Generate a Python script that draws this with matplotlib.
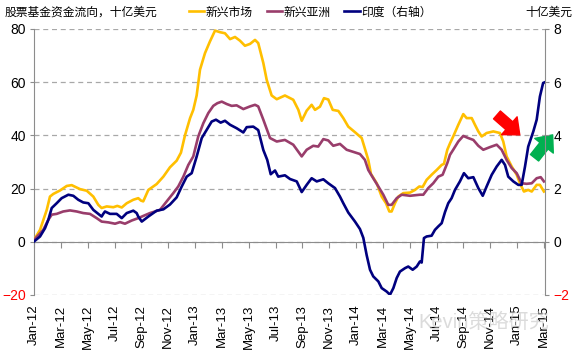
import matplotlib
matplotlib.use('Agg')
import matplotlib.pyplot as plt

plt.rcParams['font.family'] = ['Liberation Sans', 'Noto Sans CJK SC', 'DejaVu Sans']

# months since Jan-2012
em_t = [0, 0.45, 0.95, 1.19, 1.44, 1.94, 2.44, 2.81, 3.43, 3.93, 4.42, 4.79, 5.04, 5.42, 5.91,
        6.21, 6.54, 6.91, 7.40, 7.77, 7.97, 8.14, 8.52, 9.14, 9.64, 10.13, 10.63, 10.95, 11.25,
        11.63, 11.87, 12.12, 12.37, 12.74, 13.11, 13.49, 13.86, 14.23, 14.61, 14.98, 15.35, 15.72,
        16.10, 16.47, 16.71, 17.09, 17.34, 17.71, 18.09, 18.70, 19.32, 19.70, 19.95, 20.32, 20.69,
        20.94, 21.31, 21.61, 21.93, 22.26, 22.68, 23.05, 23.42, 23.92, 24.42, 24.66, 24.91, 25.11,
        25.54, 25.91, 26.23, 26.48, 26.65, 26.90, 27.15, 27.52, 28.02, 28.39, 28.71, 28.96, 29.26,
        29.63, 30.01, 30.38, 30.55, 30.80, 31.00, 31.24, 31.62, 31.99, 32.24, 32.62, 32.86, 33.11,
        33.36, 33.73, 34.23, 34.72, 34.97, 35.22, 35.60, 35.97, 36.21, 36.51, 36.83, 37.09, 37.46,
        37.70, 38.00]
em_v = [0.7, 4.5, 12, 17, 18, 19.3, 21, 21.3, 19.8, 19.2, 17, 13.9, 12.7, 13.3, 13,
        13.5, 12.9, 14.5, 15.8, 16.4, 15.5, 15.2, 19.5, 21.7, 24.5, 28, 30.5, 33.5, 40,
        46.5, 49.6, 55, 64.7, 70.9, 75.3, 79.4, 78.8, 78.4, 76.2, 77, 75.6, 73.7,
        74.4, 75.9, 74.7, 67.2, 60.9, 55, 53.6, 55, 53.4, 49.6, 45.5, 49.3, 51.5,
        49.6, 50.8, 54, 53.5, 49.6, 49.2, 46.5, 43.3, 41.2, 39, 35, 30.8, 25.5,
        22, 17, 14.5, 11.4, 11.4, 14.5, 17, 18.3, 18.5, 19.5, 20.8, 20.6, 23.3,
        25.2, 27, 28.9, 29.3, 34.6, 37, 39.6, 44, 48, 46.5, 46.5, 44, 41.5,
        39.6, 40.9, 41.5, 40.9, 37.7, 32.1, 28.3, 25.2, 22, 18.9, 19.5, 18.9, 21.4,
        21.4, 18.9]

asia_t = [0, 0.69, 1.07, 1.32, 1.69, 2.18, 2.68, 3.18, 3.67, 4.17, 4.67, 5.04, 5.54, 6.04, 6.41,
          6.78, 7.28, 7.77, 8.27, 8.64, 9.39, 9.89, 10.38, 10.75, 11.13, 11.50, 11.87, 12.24, 12.62,
          12.99, 13.36, 13.66, 13.99, 14.36, 14.73, 15.10, 15.60, 16.10, 16.47, 16.71, 17.09, 17.59,
          18.09, 18.70, 19.32, 19.95, 20.32, 20.81, 21.18, 21.56, 21.93, 22.30, 22.80, 23.30, 23.92,
          24.29, 24.66, 24.91, 25.28, 25.66, 26.03, 26.40, 26.65, 27.03, 27.40, 28.02, 28.76, 29.01,
          29.38, 29.75, 30.13, 30.45, 30.80, 31.00, 31.24, 31.62, 31.99, 32.36, 32.74, 33.11, 33.48,
          33.98, 34.48, 34.85, 35.22, 35.60, 35.97, 36.34, 36.71, 37.09, 37.46, 37.76, 38.00]
asia_v = [0.7, 4.5, 8.3, 10.2, 10.5, 11.4, 11.8, 11.4, 10.8, 10.5, 8.9, 7.6, 7.3, 6.8, 7.4,
          6.8, 8, 8.9, 10, 10.8, 12, 15.2, 18.3, 20.8, 24.5, 28.9, 32.1, 39.6, 44.6,
          48.4, 51.1, 52.1, 52.7, 51.8, 51.1, 51.3, 49.9, 50.9, 51.5, 50.9, 45.9, 39,
          37.7, 38.3, 36.5, 32.1, 34.6, 36.1, 35.8, 38.6, 38.1, 36.1, 36.8, 34.6, 33.6,
          33, 30.8, 27, 23.9, 20.8, 17.7, 13.9, 13.9, 16.4, 17.7, 17.3, 17.7, 17.7,
          20.2, 22, 24.5, 25.2, 29.6, 32.7, 34.6, 37.7, 39.8, 39, 38.3, 36.1, 34.6,
          35.6, 36.5, 34.6, 30.8, 27.7, 25.8, 22, 21.8, 22, 23.9, 24.3, 22.7]

india_t = [0, 0.45, 0.82, 1.07, 1.32, 1.69, 2.06, 2.56, 2.93, 3.30, 3.67, 4.05, 4.42, 4.79, 5.04,
           5.16, 5.29, 5.66, 6.16, 6.54, 6.91, 7.40, 7.65, 7.77, 8.03, 8.52, 9.14, 9.64, 10.13,
           10.63, 11.01, 11.38, 11.75, 12.12, 12.50, 12.87, 13.24, 13.56, 13.91, 14.23, 14.61, 15.10,
           15.60, 15.85, 16.34, 16.71, 17.09, 17.38, 17.64, 17.96, 18.20, 18.70, 19.08, 19.58, 19.95,
           20.32, 20.69, 21.07, 21.56, 21.93, 22.43, 22.80, 23.05, 23.42, 23.92, 24.29, 24.54, 24.79,
           25.04, 25.28, 25.66, 25.91, 26.28, 26.53, 26.78, 27.03, 27.27, 27.65, 27.89, 28.22, 28.52,
           28.76, 28.89, 29.06, 29.26, 29.63, 29.88, 30.13, 30.38, 30.63, 30.87, 31.12, 31.37, 31.74,
           32.04, 32.36, 32.74, 33.11, 33.44, 33.73, 34.11, 34.48, 34.85, 35.10, 35.34, 35.72, 36.09,
           36.34, 36.59, 36.83, 37.21, 37.46, 37.70, 37.94, 38.08]
india_v = [0.01, 0.2, 0.51, 0.83, 1.27, 1.45, 1.64, 1.77, 1.73, 1.58, 1.48, 1.45, 1.2, 1.05, 0.95,
           1.05, 1.14, 1.05, 1.05, 0.89, 1.08, 1.17, 1.08, 0.95, 0.76, 0.95, 1.17, 1.22, 1.4,
           1.67, 2.08, 2.45, 2.58, 3.2, 3.9, 4.21, 4.52, 4.59, 4.48, 4.55, 4.4, 4.27,
           4.11, 4.31, 4.33, 4.2, 3.45, 3.08, 2.54, 2.68, 2.45, 2.5, 2.36, 2.27, 1.87,
           2.14, 2.39, 2.27, 2.35, 2.2, 2.02, 1.7, 1.45, 1.1, 0.76, 0.48, 0.15, -0.5,
           -1.05, -1.3, -1.49, -1.74, -1.87, -1.99, -1.74, -1.36, -1.12, -0.99, -0.93, -1.05, -0.93,
           -0.74, -0.78, 0.14, 0.2, 0.23, 0.45, 0.58, 0.7, 1.12, 1.45, 1.64, 1.95, 2.27,
           2.58, 2.39, 2.43, 2.02, 1.73, 2.08, 2.52, 2.83, 3.08, 2.89, 2.45, 2.27, 2.14,
           2.14, 2.83, 3.58, 4.15, 4.59, 5.46, 5.97, 6.0]

tick_pos = list(range(0, 39, 2))
tick_labels = ['Jan-12', 'Mar-12', 'May-12', 'Jul-12', 'Sep-12', 'Nov-12', 'Jan-13', 'Mar-13',
               'May-13', 'Jul-13', 'Sep-13', 'Nov-13', 'Jan-14', 'Mar-14', 'May-14', 'Jul-14',
               'Sep-14', 'Nov-14', 'Jan-15', 'Mar-15']
left_ticks = [-20, 0, 20, 40, 60, 80]
right_ticks = [-2, 0, 2, 4, 6, 8]

c_em = '#FFBF00'
c_asia = '#993D6B'
c_india = '#00007F'
grey = '#8C8C8C'

fig = plt.figure(figsize=(5.76, 3.53), dpi=100)
ax = fig.add_axes([34 / 576, 1 - 295 / 353, (545 - 34) / 576, (295 - 29) / 353])
ax2 = ax.twinx()

ax.plot(em_t, em_v, color=c_em, lw=1.9, label='新兴市场', zorder=3)
ax.plot(asia_t, asia_v, color=c_asia, lw=1.9, label='新兴亚洲', zorder=3)
ax2.plot(india_t, india_v, color=c_india, lw=1.9, label='印度（右轴）', zorder=3)

ax.set_xlim(0, 38.08)
ax.set_ylim(-20, 80)
ax2.set_ylim(-2, 8)

ax.set_yticks(left_ticks)
ax2.set_yticks(right_ticks)
ax.yaxis.grid(True, ls=(0, (4, 3)), color='#A8A8A8', lw=0.9)
ax.set_axisbelow(True)

ax.spines['top'].set_visible(False)
ax2.spines['top'].set_visible(False)
ax2.spines['bottom'].set_visible(False)
ax2.spines['left'].set_visible(False)
ax.spines['right'].set_visible(False)
ax.spines['left'].set_color(grey)
ax2.spines['right'].set_color(grey)
ax.spines['bottom'].set_position(('data', 0))
ax.spines['bottom'].set_color(grey)

ax.set_xticks(tick_pos)
ax.tick_params(axis='x', direction='out', length=4, color=grey, labelbottom=False)
ax.tick_params(axis='y', direction='out', length=3, color=grey, labelsize=10, pad=3)
ax2.tick_params(axis='y', direction='out', length=3, color=grey, labelsize=10, pad=3)

sec = ax.secondary_xaxis('bottom')
sec.set_xticks(tick_pos, tick_labels, rotation=90, fontsize=9.5)
sec.spines['bottom'].set_visible(False)
sec.tick_params(length=0, pad=7)

for lbl in ax.get_yticklabels() + ax2.get_yticklabels():
    if lbl.get_text().startswith(('-', '−')):
        lbl.set_color('red')

# arrows
arrow_style = 'simple,head_length=1.0,head_width=1.7,tail_width=0.75'
ax.annotate('', xy=(36.2, 40.2), xytext=(34.5, 47.7),
            arrowprops=dict(arrowstyle=arrow_style, color='#FF0000', mutation_scale=10,
                            shrinkA=0, shrinkB=0),
            annotation_clip=False)
ax.annotate('', xy=(38.65, 40.2), xytext=(37.3, 31.6),
            arrowprops=dict(arrowstyle=arrow_style, color='#00B050', mutation_scale=10,
                            shrinkA=0, shrinkB=0),
            annotation_clip=False)

fig.text(5 / 576, 1 - 12 / 353, '股票基金资金流向，十亿美元', fontsize=8.5, va='center', ha='left',
         family=['Noto Sans CJK SC', 'DejaVu Sans'])
fig.text(572 / 576, 1 - 12 / 353, '十亿美元', fontsize=8.5, va='center', ha='right',
         family=['Noto Sans CJK SC', 'DejaVu Sans'])

handles = ax.get_lines()[:2] + ax2.get_lines()[:1]
fig.legend(handles, [h.get_label() for h in handles], loc='center left',
           bbox_to_anchor=(183 / 576, 1 - 12 / 353), ncol=3, frameon=False,
           handlelength=1.3, handletextpad=0.1, columnspacing=1.2, borderpad=0,
           prop={'family': ['Noto Sans CJK SC', 'DejaVu Sans'], 'size': 8.5})

# watermark
fig.text(418 / 576, 1 - 322 / 353, 'Kevin策略研究', fontsize=14.5, color='#C4C4C4', alpha=0.6,
         family=['Liberation Sans', 'Noto Sans CJK SC'], va='center', ha='left', zorder=5)

fig.savefig('out.png', dpi=100)
